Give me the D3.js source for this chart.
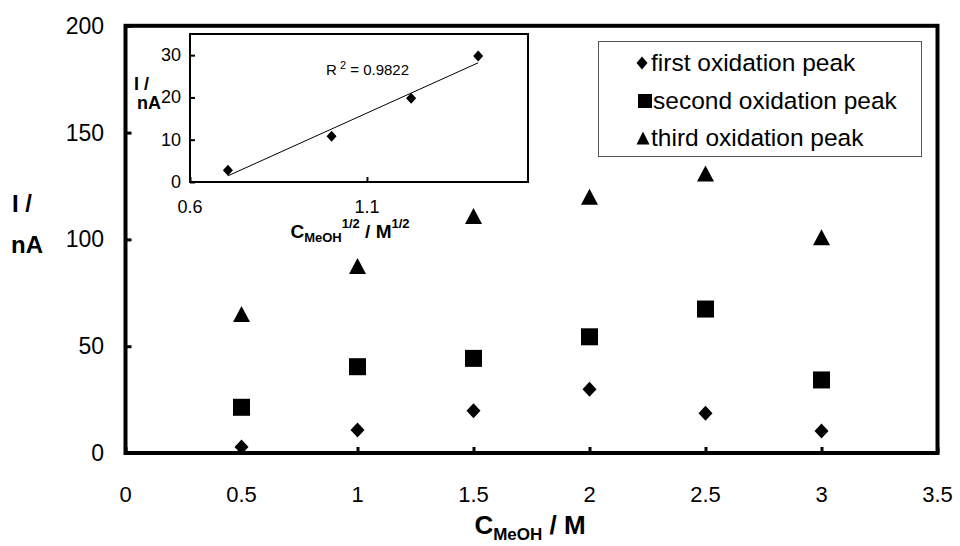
<!DOCTYPE html>
<html>
<head>
<meta charset="utf-8">
<script src="https://cdn.jsdelivr.net/npm/d3@7"></script>
<style>
  body { margin: 0; background: #fff; }
  svg { font-family: Arial, "Liberation Sans", sans-serif; }
</style>
</head>
<body>
<div id="chart"></div>
<script>
// methanol concentration (M)
var conc = [0.5, 1, 1.5, 2, 2.5, 3];
// peak currents (nA)
var firstPeak = [2.8, 10.8, 19.8, 29.8, 18.6, 10.3];
var secondPeak = [21.4, 40.4, 44.3, 54.4, 67.4, 34.2];
var thirdPeak = [65.1, 87.5, 110.9, 120, 130.9, 101];
var seriesNames = ["first oxidation peak", "second oxidation peak", "third oxidation peak"];
var xTicks = [0, 0.5, 1, 1.5, 2, 2.5, 3, 3.5];
var yTicks = [0, 50, 100, 150, 200];
// inset: first peak against sqrt(C)
var insetConc = [0.5, 1, 1.5, 2];
var insetPeak = [2.8, 10.8, 19.8, 29.8];
var insetXTicks = [0.6, 1.1];
var insetYTicks = [0, 10, 20, 30];
var r2Text = "0.9822";

var W = 960, H = 546;
var svg = d3.select("#chart").append("svg").attr("width", W).attr("height", H);

//メインのスケール
var x = d3.scaleLinear().domain([0, 3.5]).range([125.5, 937.5]);
var y = d3.scaleLinear().domain([0, 200]).range([453, 25.8]);

//マーカーの形
function diamond(g, cx, cy, w, h) {
    g.append("path").attr("d", "M" + cx + "," + (cy - h) + "L" + (cx + w) + "," + cy + "L" + cx + "," + (cy + h) + "L" + (cx - w) + "," + cy + "Z").attr("fill", "#000");
}
function square(g, cx, cy, s) {
    g.append("rect").attr("x", cx - s / 2).attr("y", cy - s / 2).attr("width", s).attr("height", s).attr("fill", "#000");
}
function triangle(g, cx, cy, w, h) {
    g.append("path").attr("d", "M" + cx + "," + (cy - h / 2) + "L" + (cx + w / 2) + "," + (cy + h / 2) + "L" + (cx - w / 2) + "," + (cy + h / 2) + "Z").attr("fill", "#000");
}

//軸の目盛り
var xAxis = svg.append("g").attr("transform", "translate(0,453)")
    .call(d3.axisTop(x).tickValues(xTicks).tickSize(6).tickFormat(""));
xAxis.select(".domain").remove();
xAxis.selectAll("line").attr("stroke", "#000").attr("stroke-width", 3);
var yAxis = svg.append("g").attr("transform", "translate(125.5,0)")
    .call(d3.axisRight(y).tickValues(yTicks).tickSize(6).tickFormat(""));
yAxis.select(".domain").remove();
yAxis.selectAll("line").attr("stroke", "#000").attr("stroke-width", 3);

//目盛りラベル
svg.append("g").selectAll("text").data(xTicks).enter().append("text")
    .attr("x", function (d) { return x(d); }).attr("y", 502)
    .attr("text-anchor", "middle").attr("font-size", 22).text(function (d) { return d; });
svg.append("g").selectAll("text").data(yTicks).enter().append("text")
    .attr("x", 104).attr("y", function (d) { return y(d) + 8; })
    .attr("text-anchor", "end").attr("font-size", 23).text(function (d) { return d; });

//データ点
var pts = svg.append("g");
conc.forEach(function (c, i) {
    diamond(pts, x(c), y(firstPeak[i]), 7, 7.5);
    square(pts, x(c), y(secondPeak[i]), 17);
    triangle(pts, x(c), y(thirdPeak[i]), 17, 16);
});

//枠
svg.append("rect").attr("x", 125.5).attr("y", 25.8).attr("width", 937.5 - 125.5).attr("height", 453 - 25.8)
    .attr("fill", "none").attr("stroke", "#000").attr("stroke-width", 4);

//軸タイトル
svg.append("text").attr("x", 12).attr("y", 212).attr("font-size", 24).attr("font-weight", "bold").text("I /");
svg.append("text").attr("x", 11).attr("y", 253).attr("font-size", 24).attr("font-weight", "bold").text("nA");
var xl = svg.append("text").attr("x", 530).attr("y", 534).attr("text-anchor", "middle").attr("font-weight", "bold").attr("font-size", 26);
xl.append("tspan").text("C");
xl.append("tspan").attr("font-size", 17).attr("dy", 6).text("MeOH");
xl.append("tspan").attr("dy", -6).text(" / M");

//凡例
var lg = svg.append("g");
lg.append("rect").attr("x", 598.5).attr("y", 41.5).attr("width", 323).attr("height", 115)
    .attr("fill", "#fff").attr("stroke", "#555").attr("stroke-width", 1);
var legRows = [63, 101, 138];
diamond(lg, 642, legRows[0], 5.5, 6.5);
square(lg, 645, legRows[1], 14);
triangle(lg, 643, legRows[2], 13, 13);
seriesNames.forEach(function (n, i) {
    lg.append("text").attr("x", i == 1 ? 653 : 651).attr("y", legRows[i] + 8).attr("font-size", 24.5).text(n);
});

//挿入図
var ix = d3.scaleLinear().domain([0.6, 1.555]).range([190, 528]);
var iy = d3.scaleLinear().domain([0, 35]).range([182, 34]);
var inset = svg.append("g");
inset.append("rect").attr("x", 190).attr("y", 34).attr("width", 338).attr("height", 148)
    .attr("fill", "#fff").attr("stroke", "#000").attr("stroke-width", 2);
var ixAxis = inset.append("g").attr("transform", "translate(0,182)")
    .call(d3.axisTop(ix).tickValues(insetXTicks).tickSize(5).tickFormat(""));
ixAxis.select(".domain").remove();
ixAxis.selectAll("line").attr("stroke", "#000").attr("stroke-width", 2);
var iyAxis = inset.append("g").attr("transform", "translate(190,0)")
    .call(d3.axisRight(iy).tickValues(insetYTicks).tickSize(5).tickFormat(""));
iyAxis.select(".domain").remove();
iyAxis.selectAll("line").attr("stroke", "#000").attr("stroke-width", 2);
inset.append("g").selectAll("text").data(insetXTicks).enter().append("text")
    .attr("x", function (d) { return ix(d); }).attr("y", 213)
    .attr("text-anchor", "middle").attr("font-size", 18).text(function (d) { return d; });
inset.append("g").selectAll("text").data(insetYTicks).enter().append("text")
    .attr("x", 181).attr("y", function (d) { return iy(d) + 6; })
    .attr("text-anchor", "end").attr("font-size", 18).text(function (d) { return d; });

//近似直線（最小二乗）
var sx = insetConc.map(function (c) { return Math.sqrt(c); });
var mx = d3.mean(sx), my = d3.mean(insetPeak);
var slope = d3.sum(sx, function (v, i) { return (v - mx) * (insetPeak[i] - my); }) / d3.sum(sx, function (v) { return (v - mx) * (v - mx); });
var icpt = my - slope * mx;
var xe = d3.extent(sx);
inset.append("line")
    .attr("x1", ix(xe[0])).attr("y1", iy(icpt + slope * xe[0]))
    .attr("x2", ix(xe[1])).attr("y2", iy(icpt + slope * xe[1]))
    .attr("stroke", "#000").attr("stroke-width", 1);
sx.forEach(function (v, i) { diamond(inset, ix(v), iy(insetPeak[i]), 5, 5.5); });

var r2 = inset.append("text").attr("x", 326).attr("y", 75).attr("font-size", 15);
r2.append("tspan").text("R");
r2.append("tspan").attr("font-size", 11).attr("dy", -6).text(" 2");
r2.append("tspan").attr("dy", 6).text(" = " + r2Text);

inset.append("text").attr("x", 134).attr("y", 90).attr("font-size", 18).attr("font-weight", "bold").text("I /");
inset.append("text").attr("x", 161).attr("y", 109).attr("text-anchor", "end").attr("font-size", 18).attr("font-weight", "bold").text("nA");
var ixl = inset.append("text").attr("x", 350).attr("y", 238).attr("text-anchor", "middle").attr("font-weight", "bold").attr("font-size", 19);
ixl.append("tspan").text("C");
ixl.append("tspan").attr("font-size", 13).attr("dy", 4).text("MeOH");
ixl.append("tspan").attr("font-size", 13).attr("dy", -14).text("1/2");
ixl.append("tspan").attr("dy", 10).text(" / M");
ixl.append("tspan").attr("font-size", 13).attr("dy", -10).text("1/2");
</script>
</body>
</html>
